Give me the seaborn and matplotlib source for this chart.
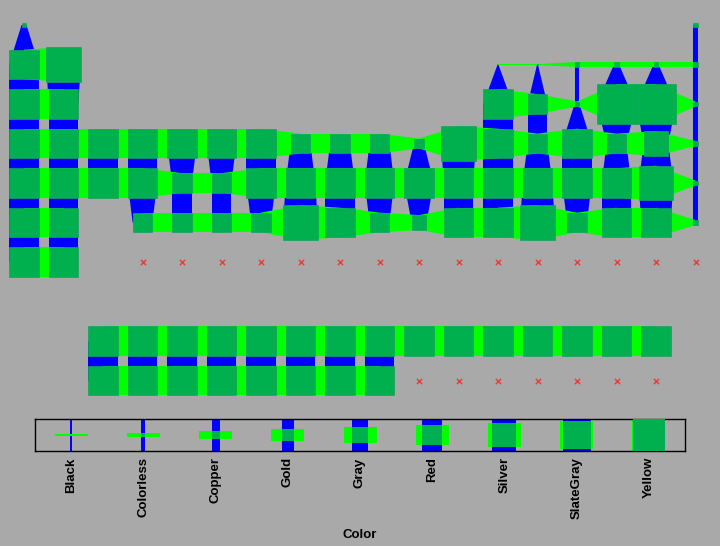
import numpy as np
import pandas as pd
import matplotlib
matplotlib.use("Agg")
import matplotlib.pyplot as plt
import seaborn as sns

# element symbols in atomic-number order
symbols = ("H He Li Be B C N O F Ne Na Mg Al Si P S Cl Ar K Ca Sc Ti V Cr Mn Fe Co Ni Cu Zn "
           "Ga Ge As Se Br Kr Rb Sr Y Zr Nb Mo Tc Ru Rh Pd Ag Cd In Sn Sb Te I Xe Cs Ba "
           "La Ce Pr Nd Pm Sm Eu Gd Tb Dy Ho Er Tm Yb Lu Hf Ta W Re Os Ir Pt Au Hg Tl Pb Bi "
           "Po At Rn Fr Ra Ac Th Pa U Np Pu Am Cm Bk Cf Es Fm Md No Lr Rf Db Sg Bh Hs Mt Ds "
           "Rg Cn Nh Fl Mc Lv Ts Og").split()

# table column (group; f-block laid out in columns 3..17)
table_col = [1, 18,
             1, 2, 13, 14, 15, 16, 17, 18,
             1, 2, 13, 14, 15, 16, 17, 18,
             1, 2, 3, 4, 5, 6, 7, 8, 9, 10, 11, 12, 13, 14, 15, 16, 17, 18,
             1, 2, 3, 4, 5, 6, 7, 8, 9, 10, 11, 12, 13, 14, 15, 16, 17, 18,
             1, 2,
             3, 4, 5, 6, 7, 8, 9, 10, 11, 12, 13, 14, 15, 16, 17,
             4, 5, 6, 7, 8, 9, 10, 11, 12, 13, 14, 15, 16, 17, 18,
             1, 2,
             3, 4, 5, 6, 7, 8, 9, 10, 11, 12, 13, 14, 15, 16, 17,
             4, 5, 6, 7, 8, 9, 10, 11, 12, 13, 14, 15, 16, 17, 18]

# table row (period; lanthanides on row 9, actinides on row 10)
table_row = ([1] * 2 + [2] * 8 + [3] * 8 + [4] * 18 + [5] * 18
             + [6] * 2 + [9] * 15 + [6] * 15
             + [7] * 2 + [10] * 15 + [7] * 15)

color = (["Colorless", "Colorless"]
         + ["Silver", "SlateGray", "Black", "Black", "Colorless", "Colorless", "Colorless", "Colorless"]
         + ["Silver", "Silver", "Silver", "Gray", "Colorless", "Yellow", "Yellow", "Colorless"]
         + ["Silver", "Silver", "Silver", "Silver", "Silver", "Silver", "Silver", "Gray", "Gray",
            "Gray", "Copper", "SlateGray", "Silver", "Gray", "Silver", "Gray", "Red", "Colorless"]
         + ["Silver", "Silver", "Silver", "Silver", "Gray", "Gray", "Silver", "Silver", "Silver",
            "Silver", "Silver", "Silver", "Silver", "Silver", "Silver", "Silver", "SlateGray", "Colorless"]
         + ["Silver", "Silver"]
         + ["Silver"] * 15
         + ["Gray", "Gray", "Gray", "Gray", "SlateGray", "Silver", "Gray", "Gold", "Silver",
            "Silver", "SlateGray", "Gray", "Silver", "Silver", "Colorless"]
         + ["Silver", "Silver"]
         + ["Silver"] * 8 + [None] * 7
         + [None] * 15)

categories = ["Black", "Colorless", "Copper", "Gold", "Gray", "Red", "Silver", "SlateGray", "Yellow"]

BG = "#a9a9a9"
BLUE = "#0000ff"
LIME = "#00ff00"
SQUARE = "#00b04f"

df = pd.DataFrame({"symbol": symbols, "col": table_col, "row": table_row, "color": color})
cat_idx = {c: i for i, c in enumerate(categories)}
df["size"] = df["color"].map(lambda c: max(cat_idx[c] / 8, 0.02) if c else np.nan)
valid = df.dropna(subset=["size"])
missing = df[df["size"].isna()]

sns.set_style("white", {"axes.facecolor": BG, "figure.facecolor": BG})
plt.rcParams["font.family"] = ["Liberation Sans", "DejaVu Sans"]
plt.rcParams["text.color"] = "black"
plt.rcParams["xtick.color"] = "black"
plt.rcParams["axes.labelcolor"] = "black"

fig = plt.figure(figsize=(7.2, 5.46), dpi=100)
fig.patch.set_facecolor(BG)

# main table
cell = 39.5
ax = fig.add_axes([0, 1 - 410 / 546, 1, 410 / 546])
ax.set_facecolor(BG)

lookup = {(r.col, r.row): r.size for r in valid.itertuples()}
for (c, r), s in lookup.items():
    if (c, r + 1) in lookup:
        s2 = lookup[(c, r + 1)]
        ax.fill([c - s / 2, c + s / 2, c + s2 / 2, c - s2 / 2], [r, r, r + 1, r + 1],
                color=BLUE, lw=0, zorder=1)
    if (c + 1, r) in lookup:
        s2 = lookup[(c + 1, r)]
        ax.fill([c, c + 1, c + 1, c], [r - s / 2, r - s2 / 2, r + s2 / 2, r + s / 2],
                color=LIME, lw=0, zorder=2)

ax.bar(valid["col"], valid["size"], width=valid["size"], bottom=valid["row"] - valid["size"] / 2,
       color=SQUARE, edgecolor="#18a060", linewidth=0.5, zorder=3)

sns.scatterplot(data=missing, x="col", y="row", marker="x", color="#e8403c", s=14,
                linewidth=1.1, ax=ax, legend=False, zorder=4)

ax.set_xlim(1 - 24 / cell, 1 + 696 / cell)
ax.set_ylim(1 + 385 / cell, 1 - 25 / cell)
ax.axis("off")

# size legend
lax = fig.add_axes([35 / 720, 1 - 451 / 546, 650 / 720, 32 / 546])
lax.set_facecolor(BG)
xu = 650 / 9
idx = np.arange(len(categories))
sz = np.maximum(idx / 8, 1.6 / 32)
w = sz * 32 / xu
lax.bar(idx, 1, width=w, bottom=-0.5, color=BLUE, lw=0, zorder=1)
lax.bar(idx, sz, width=33 / xu, bottom=-sz / 2, color=LIME, lw=0, zorder=2)
lax.bar(idx[1:], sz[1:], width=w[1:], bottom=-sz[1:] / 2, color=SQUARE, lw=0, zorder=3)
lax.set_xlim(-0.5, 8.5)
lax.set_ylim(-0.5, 0.5)
lax.set_yticks([])
lax.set_xticks(idx)
lax.set_xticklabels(categories, rotation=90, fontweight="bold", fontsize=9.5, color="black")
lax.tick_params(axis="x", direction="out", length=2.5, width=0.8, color="black", pad=2)
lax.set_xlabel("Color", fontweight="bold", fontsize=9.5, labelpad=7, color="black")
for sp in lax.spines.values():
    sp.set_visible(True)
    sp.set_color("black")
    sp.set_linewidth(1)

fig.savefig("out.png", dpi=100, facecolor=BG)
